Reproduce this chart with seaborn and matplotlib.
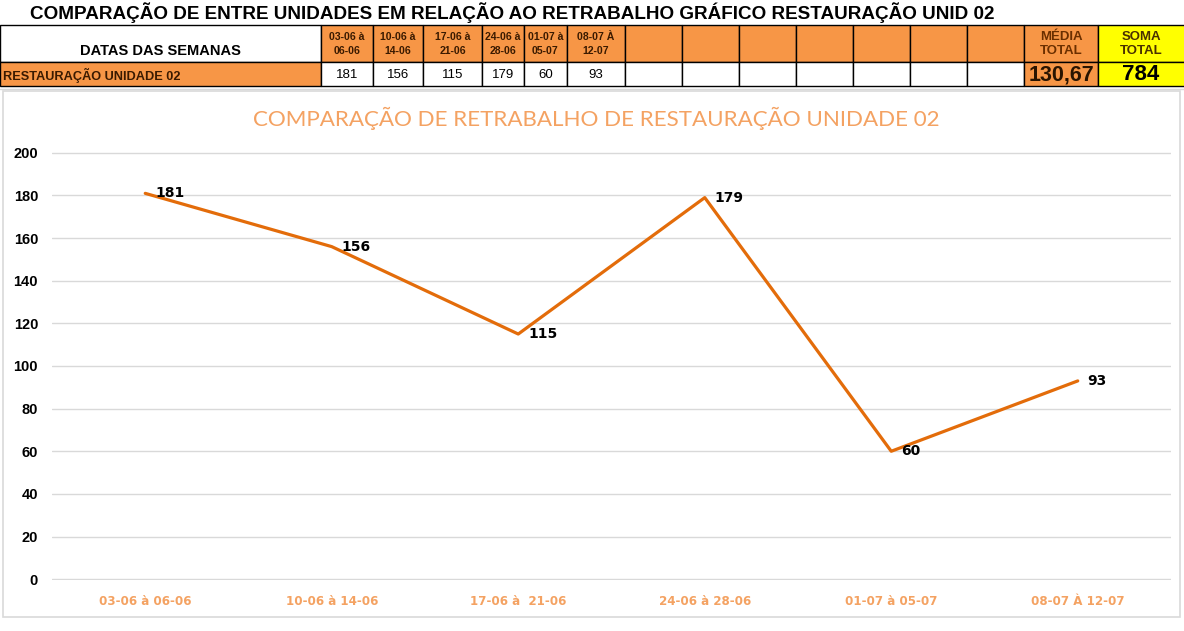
import matplotlib as mpl
mpl.use('Agg')
import matplotlib.pyplot as plt
from matplotlib.patches import Rectangle
import pandas as pd
import seaborn as sns

# data
semanas = ['03-06 à 06-06', '10-06 à 14-06', '17-06 à  21-06',
           '24-06 à 28-06', '01-07 à 05-07', '08-07 À 12-07']
semanas_tabela = ['03-06 à\n06-06', '10-06 à\n14-06', '17-06 à\n21-06',
                  '24-06 à\n28-06', '01-07 à\n05-07', '08-07 À\n12-07']
retrabalho = [181, 156, 115, 179, 60, 93]
media_total = '130,67'
soma_total = '784'

LARANJA = '#F79646'
LINHA = '#E36C0A'
CLARO = '#F4A262'
AMARELO = '#FFFF00'

sns.set_style("white")
plt.rcParams['font.family'] = ['Liberation Sans', 'DejaVu Sans']
plt.rcParams['text.color'] = 'black'
plt.rcParams['ytick.labelcolor'] = 'black'

W, H = 1184, 631
fig = plt.figure(figsize=(W / 100, H / 100), dpi=100)

# overlay in pixel coords for the spreadsheet part
ov = fig.add_axes([0, 0, 1, 1])
ov.set_xlim(0, W)
ov.set_ylim(H, 0)
ov.axis('off')

def cell(x0, x1, y0, y1, fc, lw=1.0, ec='black'):
    ov.add_patch(Rectangle((x0, y0), x1 - x0, y1 - y0, facecolor=fc,
                           edgecolor=ec, lw=lw, zorder=1))

ov.text(30, 13, 'COMPARAÇÃO DE ENTRE UNIDADES EM RELAÇÃO AO RETRABALHO GRÁFICO RESTAURAÇÃO UNID 02',
        ha='left', va='center', fontsize=13.6, fontweight='bold')

y_top, y_mid, y_bot = 25, 62, 86
col_x = [321, 373, 423, 482, 524, 567, 625]
vazias = [625, 682, 739, 796, 853, 910, 967, 1024]

cell(0, 321, y_top, y_mid, 'white')
ov.text(160, 51, 'DATAS DAS SEMANAS', ha='center', va='center', fontsize=10.5, fontweight='bold')
cell(0, 321, y_mid, y_bot, LARANJA)
ov.text(3, 75, 'RESTAURAÇÃO UNIDADE 02', ha='left', va='center', fontsize=9.2,
        fontweight='bold', color='#3a1a00')

for i, (lab, val) in enumerate(zip(semanas_tabela, retrabalho)):
    x0, x1 = col_x[i], col_x[i + 1]
    cell(x0, x1, y_top, y_mid, LARANJA)
    ov.text((x0 + x1) / 2, 44, lab, ha='center', va='center', fontsize=7.6,
            fontweight='bold', color='#3a1a00', linespacing=1.45)
    cell(x0, x1, y_mid, y_bot, 'white')
    ov.text((x0 + x1) / 2, 75, str(val), ha='center', va='center', fontsize=9.5)

for x0, x1 in zip(vazias[:-1], vazias[1:]):
    cell(x0, x1, y_top, y_mid, LARANJA)
    cell(x0, x1, y_mid, y_bot, 'white')

cell(1024, 1098, y_top, y_mid, LARANJA)
ov.text(1061, 44, 'MÉDIA\nTOTAL', ha='center', va='center', fontsize=9.5,
        fontweight='bold', color='#6b2f00', linespacing=1.3)
cell(1024, 1098, y_mid, y_bot, LARANJA)
ov.text(1061, 75, media_total, ha='center', va='center', fontsize=15.5,
        fontweight='bold', color='#2a1400')
cell(1098, 1190, y_top, y_mid, AMARELO)
ov.text(1141, 44, 'SOMA\nTOTAL', ha='center', va='center', fontsize=9.5,
        fontweight='bold', color='#4a3000', linespacing=1.3)
cell(1098, 1190, y_mid, y_bot, AMARELO)
ov.text(1141, 75, soma_total, ha='center', va='center', fontsize=16,
        fontweight='bold', color='black')

# chart box
ov.plot([0, W], [89, 89], color='#D9D9D9', lw=1, zorder=0)
ov.add_patch(Rectangle((3, 91), 1177, 526, facecolor='white', edgecolor='#D9D9D9',
                       lw=1.2, zorder=0))
ov.text(596, 118, 'COMPARAÇÃO DE RETRABALHO DE RESTAURAÇÃO UNIDADE 02', ha='center',
        va='center', fontsize=16.1, color=CLARO, family=['Lato', 'DejaVu Sans'])

# line chart
px0, px1, py_top, py_bot = 52, 1171, 152, 580
ax = fig.add_axes([px0 / W, 1 - py_bot / H, (px1 - px0) / W, (py_bot - py_top) / H])
ax.patch.set_alpha(0)
df = pd.DataFrame({'semana': semanas, 'retrabalho': retrabalho})
df['pos'] = range(len(df))
sns.lineplot(data=df, x='pos', y='retrabalho', ax=ax, color=LINHA, lw=2.3)
ax.set_xlim(-0.5, len(df) - 0.5)
ax.set_ylim(-0.4, 200.4)
ax.set_yticks(range(0, 201, 20))
ax.set_xticks(df['pos'])
ax.set_xticklabels(df['semana'], color=CLARO, fontweight='bold', fontsize=8.6,
                   family=['DejaVu Sans'])
ax.tick_params(axis='x', length=0, pad=11)
ax.tick_params(axis='y', length=0, pad=10, labelsize=10.5)
for t in ax.get_yticklabels():
    t.set_fontweight('bold')
ax.grid(axis='y', color='#D9D9D9', lw=1)
ax.set_axisbelow(True)
for s in ax.spines.values():
    s.set_visible(False)
ax.set_xlabel('')
ax.set_ylabel('')
for p, v in zip(df['pos'], df['retrabalho']):
    ax.annotate(str(v), (p, v), xytext=(10, 0), textcoords='offset pixels',
                ha='left', va='center', fontsize=10, fontweight='bold',
                family=['DejaVu Sans'])

fig.savefig('out.png', dpi=100)
